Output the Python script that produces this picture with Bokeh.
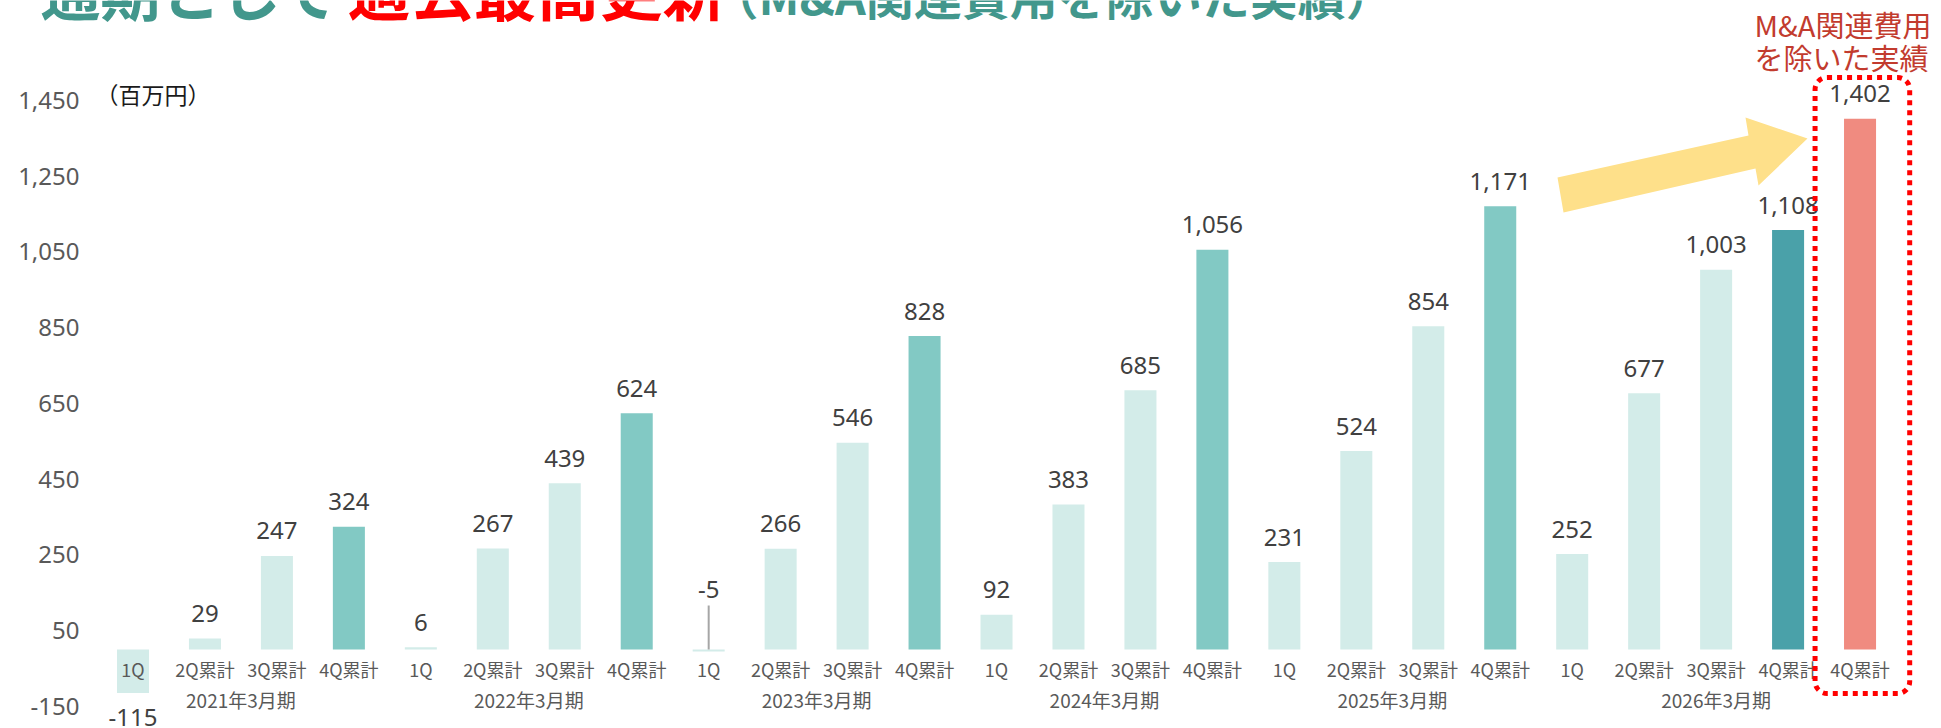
from bokeh.plotting import figure
from bokeh.models import Range1d, FixedTicker, NumeralTickFormatter, ColumnDataSource, BoxAnnotation
from bokeh.embed import file_html
from bokeh.resources import INLINE
from bokeh.core.properties import value

# ---------------- data ----------------
fiscal_years = ["2021年3月期", "2022年3月期", "2023年3月期", "2024年3月期", "2025年3月期", "2026年3月期"]
quarters = ["1Q", "2Q累計", "3Q累計", "4Q累計"]
profit_2021 = [-115, 29, 247, 324]
profit_2022 = [6, 267, 439, 624]
profit_2023 = [-5, 266, 546, 828]
profit_2024 = [92, 383, 685, 1056]
profit_2025 = [231, 524, 854, 1171]
profit_2026 = [252, 677, 1003, 1108]
adjusted_quarter = "4Q累計"
adjusted_value = 1402          # 2026年3月期 excl. M&A related costs
y_ticks = [-150, 50, 250, 450, 650, 850, 1050, 1250, 1450]
unit_label = "（百万円）"
title_parts = ["通期として", "過去最高更新", "（M&A関連費用を除いた実績）"]
note_lines = ["M&A関連費用", "を除いた実績"]

# ---------------- colours ----------------
LIGHT = "#D3ECE9"
MID = "#82C9C4"
DARK = "#4AA1A9"
SALMON = "#F08B80"
TEAL_TXT = "#42978C"
GRAY = "#595959"
VAL = "#404040"

# ---------------- geometry (page pixels of the reference) ----------------
W, H = 1941, 728
AXIS_X = 88               # page x where the y axis sits
BAR0 = 132.5              # page x of first bar centre
STEP = 71.96              # px between bars
ZERO = 649.0              # page y of zero line
PXU = 0.3786              # px per unit

def dx(px):
    return (px - BAR0) / STEP

def dy(py):
    return (ZERO - py) / PXU

def up(px):
    return px / PXU

# ---------------- assemble series ----------------
series = [profit_2021, profit_2022, profit_2023, profit_2024, profit_2025, profit_2026]
xs, vals, qlabels, colors, groups = [], [], [], [], []
i = 0
for g, (fy, vs) in enumerate(zip(fiscal_years, series)):
    members = []
    for q, v in zip(quarters, vs):
        xs.append(i)
        vals.append(v)
        qlabels.append(q)
        if q == quarters[-1]:
            colors.append(DARK if g == len(fiscal_years) - 1 else MID)
        else:
            colors.append(LIGHT)
        members.append(i)
        i += 1
    groups.append(members)
xs.append(i)
vals.append(adjusted_value)
qlabels.append(adjusted_quarter)
colors.append(SALMON)
groups[-1].append(i)
adj_x = i

label_y = []
leaders = []
for x, v in zip(xs, vals):
    if v >= 0:
        label_y.append(v + up(25))
    elif v > -50:
        label_y.append(up(60))
        leaders.append(x)
    else:
        label_y.append(v - up(24))

src = ColumnDataSource(dict(
    x=xs, v=vals, color=colors, q=qlabels,
    lbl=[f"{v:,}" for v in vals], ly=label_y,
    qy=[-up(19)] * len(xs),
))

p = figure(width=W, height=H, output_backend="svg", toolbar_location=None,
           x_range=Range1d(dx(0), dx(W)), y_range=Range1d(dy(H), dy(0)),
           x_axis_location=None, min_border_left=0, min_border_right=0,
           min_border_top=0, min_border_bottom=0, tools="")
p.title.text = ""
p.outline_line_color = None
p.xgrid.visible = False
p.ygrid.visible = False
p.background_fill_color = "white"
p.border_fill_color = "white"

ax = p.yaxis[0]
ax.fixed_location = dx(AXIS_X)
ax.ticker = FixedTicker(ticks=y_ticks)
ax.formatter = NumeralTickFormatter(format="0,0")
ax.axis_line_color = None
ax.major_tick_line_color = None
ax.minor_tick_line_color = None
ax.major_tick_out = 0
ax.major_tick_in = 0
ax.minor_tick_out = 0
ax.major_label_standoff = 9
ax.major_label_text_font = "Noto Sans"
ax.major_label_text_font_size = "24px"
ax.major_label_text_color = GRAY

# yellow arrow (decoration)
arrow_pts = [(1557, 177), (1748, 135), (1745, 117), (1807, 138), (1758, 185), (1755, 168), (1563, 212)]
p.patch([dx(a) for a, b in arrow_pts], [dy(b) for a, b in arrow_pts],
        fill_color="#FEE08A", line_color=None)

# bars
p.vbar(x="x", top="v", bottom=0, width=0.445, fill_color="color", line_color=None, source=src)

# leader lines for tiny negative values
if leaders:
    p.segment(x0=leaders, y0=[0] * len(leaders), x1=leaders, y1=[up(44)] * len(leaders),
              line_color="#A6A6A6", line_width=2)

# value labels
p.text(x="x", y="ly", text="lbl", source=src, text_align="center", text_baseline="middle",
       text_font=value("Noto Sans"), text_font_size="24px", text_color=VAL)

# quarter labels
p.text(x="x", y="qy", text="q", source=src, text_align="center", text_baseline="middle",
       text_font=value("Noto Sans CJK JP"), text_font_size="18px", text_color=GRAY)

# fiscal year labels
gx = [sum(m) / len(m) for m in groups]
p.text(x=gx, y=[-up(50)] * len(gx), text=fiscal_years, text_align="center", text_baseline="middle",
       text_font=value("Noto Sans CJK JP"), text_font_size="19px", text_color=GRAY)

# unit label
p.text(x=[dx(95)], y=[dy(93)], text=[unit_label], text_align="left", text_baseline="middle",
       text_font=value("Noto Sans CJK JP"), text_font_size="23px", text_color="#1A1A1A")

# title (cut off at the top edge)
for txt, px_x, size, col in [(title_parts[0], 40, 60, TEAL_TXT),
                             (title_parts[1], 347, 63, "#FF0000"),
                             (title_parts[2], 710, 48, TEAL_TXT)]:
    p.text(x=[dx(px_x)], y=[dy(15 - 0.44 * size)], text=[txt], text_align="left",
           text_baseline="middle", text_font=value("Noto Sans CJK JP"),
           text_font_size=f"{size}px", text_font_style="bold", text_color=col)

# note
p.text(x=[dx(1754)] * 2, y=[dy(23), dy(56)], text=note_lines, text_align="left", text_baseline="middle",
       text_font=value("Noto Sans CJK JP"), text_font_size="29px", text_color="#C23B2E")

# dotted highlight box around the adjusted bar
box = BoxAnnotation(left=adj_x - 0.625, right=adj_x + 0.69, top=dy(77), bottom=dy(693),
                    fill_color=None, fill_alpha=0, line_color="#FF0000", line_alpha=1.0,
                    line_width=5, line_dash="5 5", border_radius=12)
p.add_layout(box)

open("out.html", "w").write(file_html(p, INLINE, "chart"))
